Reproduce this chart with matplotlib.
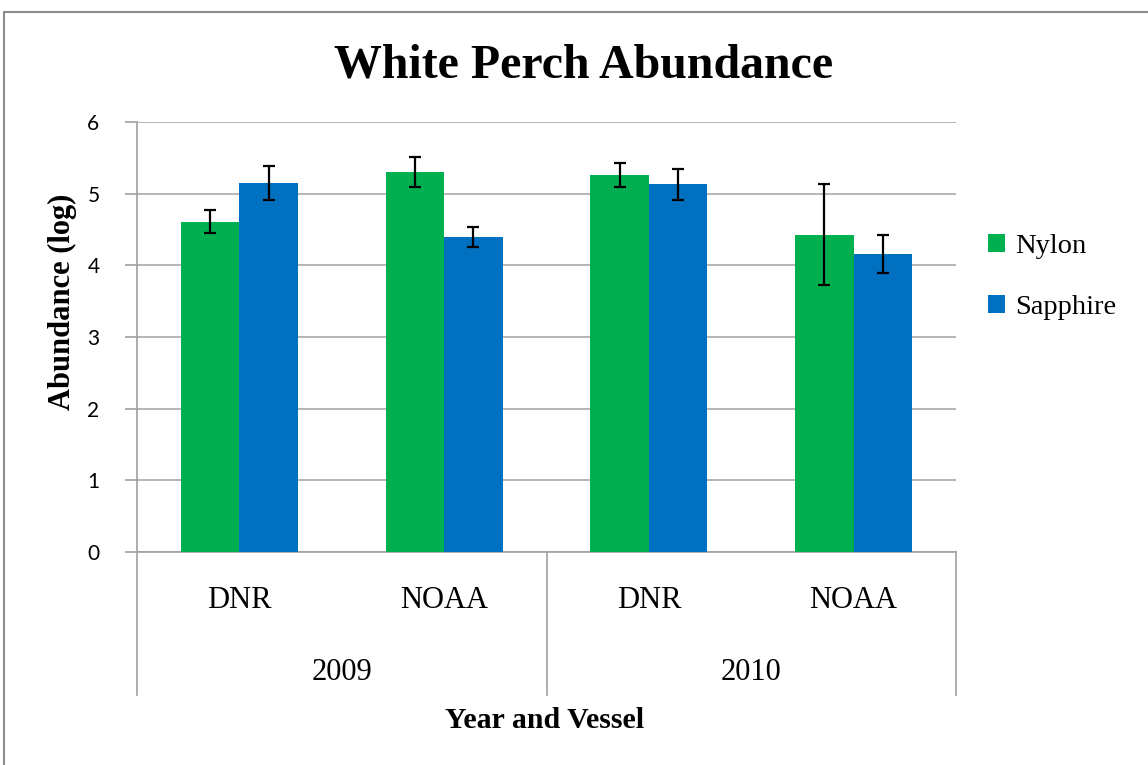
import matplotlib
matplotlib.use("Agg")
import matplotlib.pyplot as plt
import matplotlib.transforms as mtransforms
from matplotlib.patches import Rectangle
import numpy as np

# ---- data ----
years = ["2009", "2010"]
vessels = ["DNR", "NOAA", "DNR", "NOAA"]
series_names = ["Nylon", "Sapphire"]
nylon = [4.61, 5.30, 5.26, 4.43]
nylon_err = [0.165, 0.21, 0.17, 0.70]
sapphire = [5.15, 4.40, 5.13, 4.16]
sapphire_err = [0.235, 0.14, 0.22, 0.27]
yticks = [0, 1, 2, 3, 4, 5, 6]

colors = ["#00B050", "#0070C0"]
serif = ["Liberation Serif", "DejaVu Serif"]

W, H = 1148, 765
fig = plt.figure(figsize=(W / 100, H / 100), dpi=100)

# chart border
fig.add_artist(Rectangle((4 / W, -0.01), 1.02, (H - 12) / H + 0.01, transform=fig.transFigure,
                         fill=False, edgecolor="#8c8c8c", linewidth=1.5, clip_on=False))

left, right, top, bottom = 137, 956, 122, 552
ax = fig.add_axes([left / W, (H - bottom) / H, (right - left) / W, (bottom - top) / H])

x = np.arange(len(vessels))
bw = 0.2857
ekw = dict(ecolor="black", elinewidth=1.6, capsize=4.5, capthick=1.6, zorder=4)
ax.bar(x - bw / 2, nylon, bw, color=colors[0], label=series_names[0], zorder=3,
       yerr=nylon_err, error_kw=ekw)
ax.bar(x + bw / 2, sapphire, bw, color=colors[1], label=series_names[1], zorder=3,
       yerr=sapphire_err, error_kw=ekw)

ax.set_xlim(-0.5, len(vessels) - 0.5)
ax.set_ylim(0, 6)
ax.set_yticks(yticks)
ax.set_yticklabels([str(t) for t in yticks], fontsize=15, family=["Lato", "DejaVu Sans"])
ax.yaxis.grid(True, color="#b0b0b0", linewidth=1.3, zorder=0)
ax.set_axisbelow(True)
ax.tick_params(axis="y", length=9, width=1.2, color="#a0a0a0", pad=18, direction="out")
ax.set_xticks([])
for s in ["top", "right"]:
    ax.spines[s].set_visible(False)
for s in ["left", "bottom"]:
    ax.spines[s].set_color("#a0a0a0")
    ax.spines[s].set_linewidth(1.2)

# multi-level category axis
trans = mtransforms.blended_transform_factory(ax.transData, ax.transAxes)
sep_bottom = -(695 - bottom) / (bottom - top)
for xs in [-0.5, 1.5, 3.5]:
    ax.plot([xs, xs], [0, sep_bottom], transform=trans, color="#a0a0a0", linewidth=1.2, clip_on=False)
lab_y = -(601 - bottom) / (bottom - top)
for xi, v in zip(x, vessels):
    ax.text(xi, lab_y, v, transform=trans, ha="center", va="center", fontsize=22, family=serif)
year_y = -(672 - bottom) / (bottom - top)
for i, yr in enumerate(years):
    ax.text(2 * i + 0.5, year_y, yr, transform=trans, ha="center", va="center", fontsize=22, family=serif)

fig.text(545 / W, 1 - 720 / H, "Year and Vessel", ha="center", va="center", fontsize=21.5,
         fontweight="bold", family=serif)
fig.text(62 / W, 1 - 302 / H, "Abundance (log)", ha="center", va="center", rotation=90, fontsize=22,
         fontweight="bold", family=serif)
fig.text(584 / W, 1 - 66 / H, "White Perch Abundance", ha="center", va="center", fontsize=34.5,
         fontweight="bold", family=serif)

leg = fig.legend(loc="center left", bbox_to_anchor=(962 / W, 1 - 277 / H), frameon=False,
                 prop=dict(family=serif, size=20.5), handlelength=0.6, handleheight=0.6,
                 handletextpad=0.35, labelspacing=1.25)

fig.savefig("out.png", dpi=100)
